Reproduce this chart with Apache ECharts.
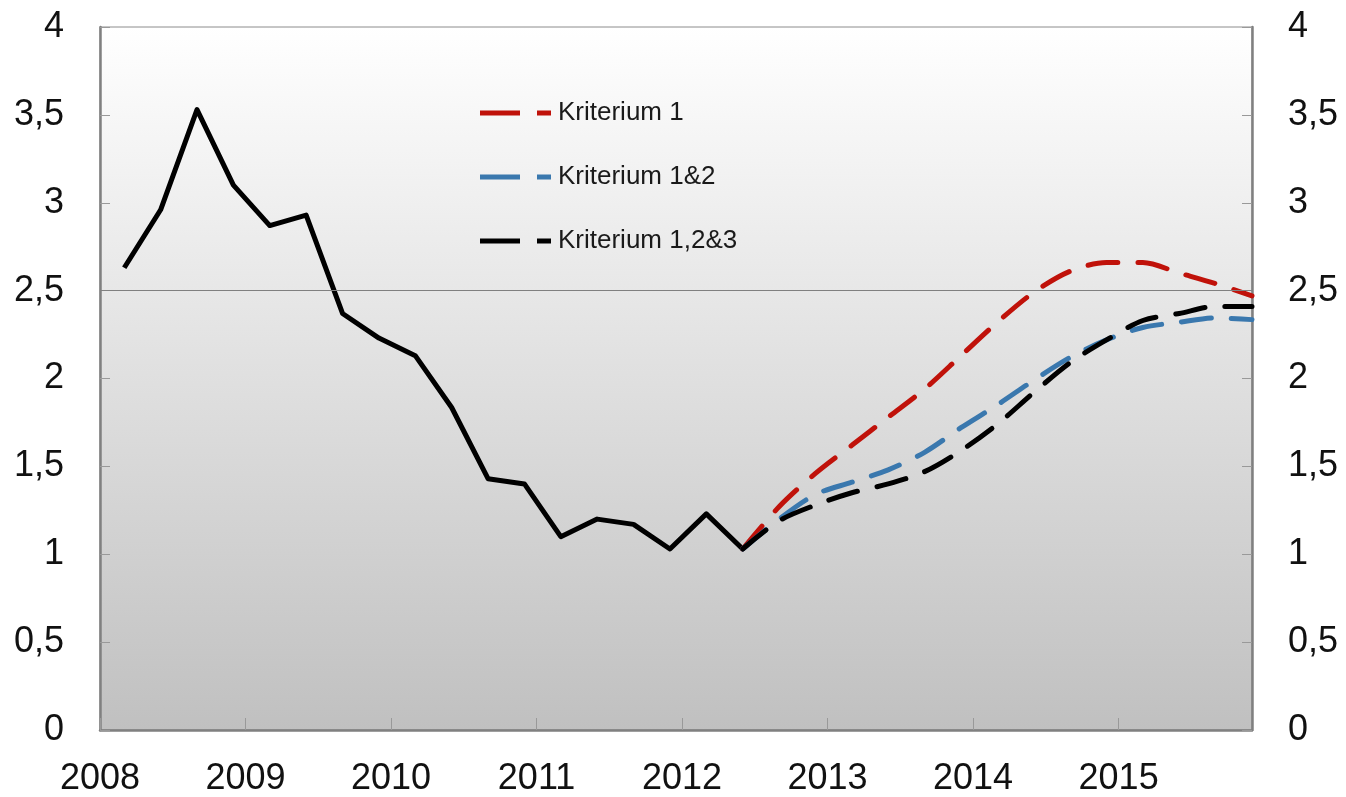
<!DOCTYPE html>
<html>
<head>
<meta charset="utf-8">
<title>Kriterium</title>
<script src="https://cdn.jsdelivr.net/npm/echarts@6/dist/echarts.min.js"></script>
<style>
  html, body { margin: 0; padding: 0; background: #fff; }
  #chart { width: 1346px; height: 797px; }
</style>
</head>
<body>
<div id="chart"></div>
<script>
// kvartaler, første punkt i mars 2008
const quarters = [
  '2008K1', '2008K2', '2008K3', '2008K4', '2009K1', '2009K2', '2009K3', '2009K4',
  '2010K1', '2010K2', '2010K3', '2010K4', '2011K1', '2011K2', '2011K3', '2011K4',
  '2012K1', '2012K2', '2012K3', '2012K4', '2013K1', '2013K2', '2013K3', '2013K4',
  '2014K1', '2014K2', '2014K3', '2014K4', '2015K1', '2015K2', '2015K3', '2015K4'
];
const yearTicks = [2008, 2009, 2010, 2011, 2012, 2013, 2014, 2015];

// historikk (2008K1 - 2012K2)
const historikk = [2.63, 2.96, 3.53, 3.10, 2.87, 2.93, 2.37, 2.23, 2.13, 1.835,
  1.43, 1.40, 1.10, 1.20, 1.17, 1.03, 1.23, 1.03];

// prognoser (2012K2 - 2015K4)
const kriterium1 = [1.03, 1.27, 1.46, 1.62, 1.78, 1.94, 2.13, 2.32, 2.49, 2.61, 2.66, 2.66, 2.60, 2.54, 2.47];
const kriterium12 = [1.03, 1.20, 1.34, 1.41, 1.48, 1.58, 1.72, 1.85, 1.99, 2.12, 2.22, 2.29, 2.32, 2.345, 2.335];
const kriterium123 = [1.03, 1.19, 1.28, 1.35, 1.40, 1.47, 1.59, 1.74, 1.92, 2.09, 2.22, 2.33, 2.37, 2.41, 2.41];

const legendNames = ['Kriterium 1', 'Kriterium 1&2', 'Kriterium 1,2&3'];

// kvartal -> årstall på x-aksen
function qx(q) {
  const y = parseInt(q.slice(0, 4), 10);
  const k = parseInt(q.slice(5), 10);
  return y + 2 / 12 + (k - 1) * 0.25;
}

const startIdx = historikk.length - 1;
const pairs = (vals, offset) => vals.map((v, i) => [qx(quarters[offset + i]), v]);

const xMax = qx(quarters[quarters.length - 1]);
const font = 'Liberation Sans';
const fmt = v => String(v).replace('.', ',');
const dashIcon = 'path://M0,0H40V5H0Z M57,0H71V5H57Z';

const chart = echarts.init(document.getElementById('chart'));

const option = {
  backgroundColor: '#ffffff',
  animation: false,
  grid: {
    left: 100, right: 94, top: 27, bottom: 66,
    show: true,
    borderColor: '#8c8c8c',
    borderWidth: 1,
    backgroundColor: {
      type: 'linear', x: 0, y: 0, x2: 0, y2: 1,
      colorStops: [
        { offset: 0, color: '#ffffff' },
        { offset: 1, color: '#c0c0c0' }
      ]
    }
  },
  legend: {
    orient: 'vertical',
    left: 475,
    top: 95,
    itemWidth: 71,
    itemHeight: 5,
    itemGap: 38,
    data: legendNames.map(n => ({ name: n, icon: dashIcon })),
    textStyle: { fontFamily: font, fontSize: 26, color: '#1a1a1a', padding: [0, 0, 0, 2] }
  },
  xAxis: {
    type: 'value',
    min: yearTicks[0],
    max: xMax,
    interval: 1,
    axisLine: { show: true, onZero: false, lineStyle: { color: '#808080', width: 2.5 } },
    axisTick: { show: true, inside: true, length: 12, lineStyle: { color: '#999', width: 1 } },
    axisLabel: {
      margin: 31,
      fontFamily: font, fontSize: 36, color: '#111',
      showMaxLabel: false,
      formatter: v => (yearTicks.indexOf(v) >= 0 ? String(v) : '')
    },
    splitLine: { show: false }
  },
  yAxis: [
    {
      type: 'value', min: 0, max: 4, interval: 0.5, position: 'left',
      axisLine: { show: true, lineStyle: { color: '#808080', width: 2.5 } },
      axisTick: { show: true, inside: true, length: 10, lineStyle: { color: '#999', width: 1 } },
      axisLabel: { margin: 36, fontFamily: font, fontSize: 36, color: '#111', formatter: fmt },
      splitLine: { show: false }
    },
    {
      type: 'value', min: 0, max: 4, interval: 0.5, position: 'right',
      axisLine: { show: true, lineStyle: { color: '#808080', width: 2.5 } },
      axisTick: { show: true, inside: true, length: 10, lineStyle: { color: '#999', width: 1 } },
      axisLabel: { margin: 36, fontFamily: font, fontSize: 36, color: '#111', formatter: fmt },
      splitLine: { show: false }
    }
  ],
  series: [
    {
      name: 'Historikk',
      type: 'line',
      data: pairs(historikk, 0),
      showSymbol: false,
      lineStyle: { color: '#000', width: 5, join: 'round' },
      itemStyle: { color: '#000' },
      markLine: {
        silent: true,
        symbol: 'none',
        label: { show: false },
        lineStyle: { color: '#808080', width: 1, type: 'solid' },
        data: [{ yAxis: 2.5 }]
      }
    },
    {
      name: legendNames[0],
      type: 'line',
      data: pairs(kriterium1, startIdx),
      showSymbol: false,
      smooth: 0.3,
      itemStyle: { color: '#c0120a' },
      lineStyle: { color: '#c0120a', width: 5, type: [30, 20], cap: 'round' }
    },
    {
      name: legendNames[1],
      type: 'line',
      data: pairs(kriterium12, startIdx),
      showSymbol: false,
      smooth: 0.3,
      itemStyle: { color: '#3a78ae' },
      lineStyle: { color: '#3a78ae', width: 5, type: [30, 20], cap: 'round' }
    },
    {
      name: legendNames[2],
      type: 'line',
      data: pairs(kriterium123, startIdx),
      showSymbol: false,
      smooth: 0.3,
      itemStyle: { color: '#000' },
      lineStyle: { color: '#000', width: 5, type: [30, 20], cap: 'round' }
    }
  ]
};

chart.setOption(option);
</script>
</body>
</html>
